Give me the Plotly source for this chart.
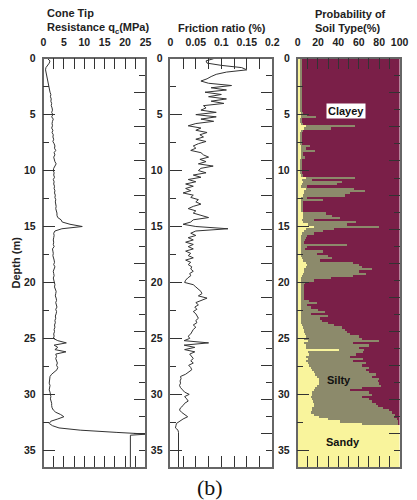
import plotly.graph_objects as go

# ---------------- data ----------------
DEPTH_GRID = [
    0.0, 0.2, 0.4, 0.6, 0.8, 1.0, 1.2, 1.4, 1.6, 1.8,
    2.0, 2.2, 2.4, 2.6, 2.8, 3.0, 3.2, 3.4, 3.6, 3.8,
    4.0, 4.2, 4.4, 4.6, 4.8, 5.0, 5.2, 5.4, 5.6, 5.8,
    6.0, 6.2, 6.4, 6.6, 6.8, 7.0, 7.2, 7.4, 7.6, 7.8,
    8.0, 8.2, 8.4, 8.6, 8.8, 9.0, 9.2, 9.4, 9.6, 9.8,
    10.0, 10.2, 10.4, 10.6, 10.8, 11.0, 11.2, 11.4, 11.6, 11.8,
    12.0, 12.2, 12.4, 12.6, 12.8, 13.0, 13.2, 13.4, 13.6, 13.8,
    14.0, 14.2, 14.4, 14.6, 14.8, 15.0, 15.2, 15.4, 15.6, 15.8,
    16.0, 16.2, 16.4, 16.6, 16.8, 17.0, 17.2, 17.4, 17.6, 17.8,
    18.0, 18.2, 18.4, 18.6, 18.8, 19.0, 19.2, 19.4, 19.6, 19.8,
    20.0, 20.2, 20.4, 20.6, 20.8, 21.0, 21.2, 21.4, 21.6, 21.8,
    22.0, 22.2, 22.4, 22.6, 22.8, 23.0, 23.2, 23.4, 23.6, 23.8,
    24.0, 24.2, 24.4, 24.6, 24.8, 25.0, 25.2, 25.4, 25.6, 25.8,
    26.0, 26.2, 26.4, 26.6, 26.8, 27.0, 27.2, 27.4, 27.6, 27.8,
    28.0, 28.2, 28.4, 28.6, 28.8, 29.0, 29.2, 29.4, 29.6, 29.8,
    30.0, 30.2, 30.4, 30.6, 30.8, 31.0, 31.2, 31.4, 31.6, 31.8,
    32.0, 32.2, 32.4, 32.6, 32.8, 33.0, 33.2, 33.4, 33.6, 33.8,
    34.0, 34.2, 34.4, 34.6, 34.8, 35.0, 35.2, 35.4, 35.6, 35.8,
    36.0, 36.2, 36.4,
]

# Cone tip resistance qc (MPa)
DEPTH_QC = DEPTH_GRID[:166] + [33.2, 33.4, 33.55, 33.65, 36.5]
QC = [
    1.0, 1.6, 1.4, 1.0, 0.6, 0.5, 0.6, 0.7, 0.8, 0.9,
    1.0, 1.1, 1.3, 1.4, 1.5, 1.6, 1.8, 1.7, 1.9, 1.8,
    2.0, 1.9, 2.1, 2.2, 2.0, 2.3, 2.0, 2.4, 2.2, 2.1,
    2.2, 2.0, 2.3, 2.1, 2.4, 2.3, 2.5, 2.3, 2.6, 2.8,
    2.7, 3.0, 2.6, 2.8, 2.5, 2.6, 2.8, 3.1, 2.7, 2.5,
    2.4, 2.6, 2.5, 2.7, 2.4, 2.6, 2.5, 2.7, 2.6, 2.8,
    2.7, 2.9, 2.8, 3.0, 2.9, 3.0, 3.1, 3.0, 3.2, 3.3,
    3.3, 3.5, 4.3, 4.6, 6.5, 9.5, 4.5, 2.8, 2.5, 2.6,
    2.5, 2.4, 2.5, 2.4, 2.6, 2.2, 2.3, 2.4, 2.3, 2.5,
    2.6, 2.7, 2.5, 2.8, 2.6, 2.4, 2.5, 2.6, 2.4, 2.5,
    2.6, 2.8, 2.7, 3.0, 3.1, 3.0, 2.9, 3.1, 3.2, 3.0,
    3.1, 3.3, 3.0, 3.2, 3.1, 2.9, 3.0, 2.8, 2.9, 2.7,
    2.8, 2.6, 2.7, 2.5, 2.6, 2.4, 3.5, 5.6, 2.6, 3.5,
    2.8, 5.5, 3.0, 3.2, 3.0, 3.3, 3.4, 3.2, 3.5, 3.3,
    2.6, 2.0, 1.6, 1.5, 1.5, 1.4, 1.6, 1.5, 1.4, 1.6,
    1.7, 1.8, 1.7, 1.9, 2.0, 2.0, 2.1, 2.4, 3.0, 4.2,
    5.0, 3.5, 1.8, 1.4, 2.2, 3.8,
    9.0, 18.0, 25.5, 21.3, 21.3,
]

# Friction ratio (%)
DEPTH_FR = DEPTH_GRID[:167] + [33.4, 36.5]
FRICTION = [
    0.085, 0.070, 0.072, 0.100, 0.140, 0.150, 0.110, 0.090, 0.080, 0.072,
    0.060, 0.075, 0.120, 0.080, 0.110, 0.068, 0.100, 0.075, 0.110, 0.080,
    0.105, 0.065, 0.070, 0.060, 0.090, 0.050, 0.090, 0.060, 0.085, 0.050,
    0.035, 0.060, 0.050, 0.072, 0.058, 0.065, 0.050, 0.070, 0.055, 0.045,
    0.050, 0.040, 0.060, 0.065, 0.075, 0.058, 0.070, 0.055, 0.084, 0.060,
    0.055, 0.070, 0.045, 0.060, 0.035, 0.050, 0.030, 0.045, 0.030, 0.040,
    0.025, 0.045, 0.040, 0.055, 0.050, 0.060, 0.045, 0.035, 0.050, 0.045,
    0.060, 0.075, 0.045, 0.040, 0.025, 0.050, 0.113, 0.050, 0.040, 0.050,
    0.035, 0.045, 0.030, 0.045, 0.035, 0.045, 0.030, 0.040, 0.035, 0.045,
    0.030, 0.040, 0.035, 0.042, 0.040, 0.045, 0.038, 0.040, 0.034, 0.030,
    0.028, 0.045, 0.050, 0.056, 0.060, 0.062, 0.055, 0.072, 0.060, 0.050,
    0.055, 0.048, 0.052, 0.045, 0.050, 0.052, 0.055, 0.050, 0.052, 0.045,
    0.050, 0.045, 0.042, 0.040, 0.035, 0.038, 0.027, 0.075, 0.027, 0.048,
    0.028, 0.048, 0.038, 0.042, 0.045, 0.040, 0.045, 0.036, 0.040, 0.042,
    0.036, 0.030, 0.020, 0.021, 0.019, 0.020, 0.018, 0.020, 0.024, 0.028,
    0.037, 0.028, 0.032, 0.035, 0.028, 0.025, 0.020, 0.018, 0.022, 0.028,
    0.034, 0.025, 0.018, 0.012, 0.011, 0.010, 0.015,
    0.016, 0.016,
]

# Probability of soil type (%)
DEPTH_SOIL = DEPTH_GRID
SANDY = [
    2.5, 2.5, 2.5, 2.5, 2.5, 2.5, 2.5, 2.5, 2.5, 2.5,
    2.5, 2.5, 2.5, 2.5, 2.5, 2.5, 2.5, 2.5, 2.5, 2.5,
    2.5, 2.5, 2.5, 2.5, 2.5, 3, 3, 2.5, 2.5, 3,
    8, 6, 2.5, 2.5, 2.5, 2.5, 2.5, 2.5, 2.5, 3,
    3, 3, 2.5, 2.5, 2.5, 2.5, 2.5, 2.5, 2.5, 2.5,
    2.5, 2.5, 3, 8, 4, 5, 4, 3, 8, 6,
    6, 5, 3, 3, 2.5, 2.5, 2.5, 2.5, 2.5, 5,
    5, 5, 4, 5, 10, 16, 8, 6, 4, 3,
    3, 3, 3, 3, 3, 3, 3, 3, 3, 4,
    5, 8, 9, 8, 6, 6, 5, 4, 3, 2.5,
    2.5, 2.5, 2.5, 2.5, 2.5, 2.5, 2.5, 2.5, 2.5, 2.5,
    3, 3, 3, 3, 3, 3, 3, 3, 3, 4,
    5, 6, 6, 7, 8, 6, 9.5, 6, 8, 8,
    40, 9.5, 11, 8, 9.5, 8, 9.5, 11, 13, 14,
    16, 17, 19, 21, 21, 21, 19, 17, 16, 14,
    14, 13, 14, 15, 16, 16, 14, 14, 13, 16,
    21, 29, 41, 63, 100, 100, 100, 100, 100, 100,
    100, 100, 100, 100, 100, 100, 100, 100, 100, 100,
    100, 100, 100,
]
SILTY = [
    1.5, 1.5, 1.5, 1.5, 1.5, 1.5, 1.5, 1.5, 1.5, 1.5,
    1.5, 1.5, 1.5, 1.5, 1.5, 1.5, 1.5, 1.5, 1.5, 1.5,
    1.5, 1.5, 1.5, 1.5, 2, 6, 15, 1.5, 1.5, 1.5,
    48, 26, 2, 1.5, 1.5, 1.5, 1.5, 1.5, 1.5, 9,
    5, 14, 2, 2, 4, 1.5, 1.5, 1.5, 1.5, 1.5,
    1.5, 1.5, 2, 48, 10, 38, 34, 6, 47, 60,
    45, 41, 6, 22, 2, 2, 2, 2, 2, 22,
    28, 36, 12, 52, 38, 63, 27, 19, 12, 6,
    5, 4, 3, 45, 6, 4, 22, 16, 26, 29,
    17, 46, 51, 55, 67, 54, 62, 50, 29, 13,
    4, 3, 3, 3, 3, 3, 3, 3, 8, 16,
    6, 10, 17, 23, 10, 26, 19, 21, 26, 31,
    38, 40, 42, 44, 52, 57, 70, 48, 62, 52,
    25, 54, 46, 43, 54, 46, 57, 52, 57, 53,
    54, 59, 54, 58, 57, 58, 62, 46, 35, 56,
    59, 50, 56, 58, 60, 62, 69, 75, 79, 79,
    73, 68, 57, 36, 0, 0, 0, 0, 0, 0,
    0, 0, 0, 0, 0, 0, 0, 0, 0, 0,
    0, 0, 0,
]
# clayey probability is the remainder of the three-class probability
CLAYEY = [100 - s - t for s, t in zip(SANDY, SILTY)]

SOIL_LABELS = ["Clayey", "Silty", "Sandy"]
SOIL_LABEL_X = [47, 41, 45]
SOIL_LABEL_Y = [4.7, 28.7, 34.3]

# ---------------- style ----------------
W, H = 417, 500
YELLOW, OLIVE, MAROON = "#F9F49C", "#8C8A6B", "#7A1F48"
FONT = "Liberation Sans, Arial, sans-serif"
DEPTH_MAX = 36.5
FT = 0.3048

def px_x(p):
    return p / W

def px_y(p):
    return 1 - p / H

PANELS = [(41.7, 146.7), (172.3, 277.3), (303.3, 408.3)]
YDOM = [px_y(466.7), px_y(53.3)]

fig = go.Figure()
fig.add_trace(go.Scatter(x=QC, y=DEPTH_QC, mode="lines",
                         line=dict(color="#333333", width=1),
                         xaxis="x", yaxis="y", showlegend=False))
fig.add_trace(go.Scatter(x=FRICTION, y=DEPTH_FR, mode="lines",
                         line=dict(color="#333333", width=1),
                         xaxis="x2", yaxis="y2", showlegend=False))
for name, vals, col in [("Sandy", SANDY, YELLOW), ("Silty", SILTY, OLIVE),
                        ("Clayey", CLAYEY, MAROON)]:
    fig.add_trace(go.Bar(x=vals, y=DEPTH_SOIL, orientation="h", name=name,
                         width=0.2, marker=dict(color=col, line=dict(width=0)),
                         xaxis="x3", yaxis="y3", showlegend=False))
# secondary depth axes in feet (right-hand ticks)
for xa, ya in [("x", "y4"), ("x2", "y5"), ("x3", "y6")]:
    fig.add_trace(go.Scatter(x=[None], y=[None], xaxis=xa, yaxis=ya,
                             showlegend=False, hoverinfo="skip"))

tickfont = dict(family=FONT, size=10.5, color="#222222", weight="bold")
line_kw = dict(showline=True, linecolor="#666666", linewidth=1.5)

def xax(i, rng, dtick, minor):
    a, b = PANELS[i]
    return dict(domain=[px_x(a), px_x(b)], range=rng, side="top",
                anchor=["y", "y2", "y3"][i],
                ticks="inside", ticklen=11, tickwidth=1, tickcolor="#333333",
                tick0=0, dtick=dtick,
                minor=dict(dtick=minor, tick0=0, ticks="inside", ticklen=6,
                           tickwidth=1, tickcolor="#333333"),
                mirror="allticks", showgrid=False, zeroline=False,
                tickfont=tickfont, ticklabelstandoff=7, fixedrange=True, **line_kw)

def yax(i):
    return dict(domain=YDOM, range=[DEPTH_MAX, 0], anchor=["x", "x2", "x3"][i],
                ticks="inside", ticklen=12, tickwidth=1, tickcolor="#333333",
                tick0=0, dtick=5,
                minor=dict(dtick=2.5, tick0=0, ticks="inside", ticklen=6,
                           tickwidth=1, tickcolor="#333333"),
                mirror=True, showgrid=False, zeroline=False,
                tickfont=tickfont, ticklabelstandoff=4, fixedrange=True, **line_kw)

def yft(i):
    return dict(overlaying=["y", "y2", "y3"][i], anchor=["x", "x2", "x3"][i],
                side="right", range=[DEPTH_MAX / FT, 0],
                ticks="inside", ticklen=11, tickwidth=1, tickcolor="#333333",
                tick0=0, dtick=10,
                minor=dict(dtick=5, tick0=0, ticks="inside", ticklen=6,
                           tickwidth=1, tickcolor="#333333"),
                showticklabels=False, showline=False, showgrid=False,
                zeroline=False, fixedrange=True)

fig.update_layout(
    width=W, height=H,
    margin=dict(l=0, r=0, t=0, b=0),
    paper_bgcolor="white", plot_bgcolor="white",
    barmode="stack", bargap=0,
    showlegend=False,
    xaxis=xax(0, [0, 25], 5, 2.5),
    xaxis2=xax(1, [0, 0.2], 0.05, 0.025),
    xaxis3=xax(2, [0, 100], 20, 10),
    yaxis=yax(0), yaxis2=yax(1), yaxis3=yax(2),
    yaxis4=yft(0), yaxis5=yft(1), yaxis6=yft(2),
)

title_font = dict(family=FONT, size=11, color="#222222", weight="bold")
ann = [
    dict(text="Cone Tip<br>Resistance q<sub>c</sub>(MPa)", x=px_x(43), y=px_y(15.5),
         xanchor="left", yanchor="middle", align="left"),
    dict(text="Friction ratio (%)", x=px_x(225), y=px_y(22),
         xanchor="center", yanchor="middle"),
    dict(text="Probability of<br>Soil Type(%)", x=px_x(319), y=px_y(15.5),
         xanchor="left", yanchor="middle", align="left"),
    dict(text="Depth (m)", x=px_x(13), y=px_y(260), textangle=-90,
         xanchor="center", yanchor="middle"),
]
for a in ann:
    a.update(xref="paper", yref="paper", showarrow=False, font=title_font)
    fig.add_annotation(**a)

fig.add_annotation(text="(b)", x=px_x(213), y=px_y(487), xref="paper", yref="paper",
                   showarrow=False, xanchor="center", yanchor="middle",
                   font=dict(family="Liberation Serif, Times New Roman, serif",
                             size=22, color="#111111"))

for lab, lx, ly in zip(SOIL_LABELS, SOIL_LABEL_X, SOIL_LABEL_Y):
    kw = dict(bgcolor="white", borderpad=1) if lab == "Clayey" else {}
    fig.add_annotation(text=lab, x=lx, y=ly, xref="x3", yref="y3", showarrow=False,
                       xanchor="center", yanchor="middle",
                       font=dict(family=FONT, size=11, color="#111111", weight="bold"),
                       **kw)

fig.write_html("out.html")
